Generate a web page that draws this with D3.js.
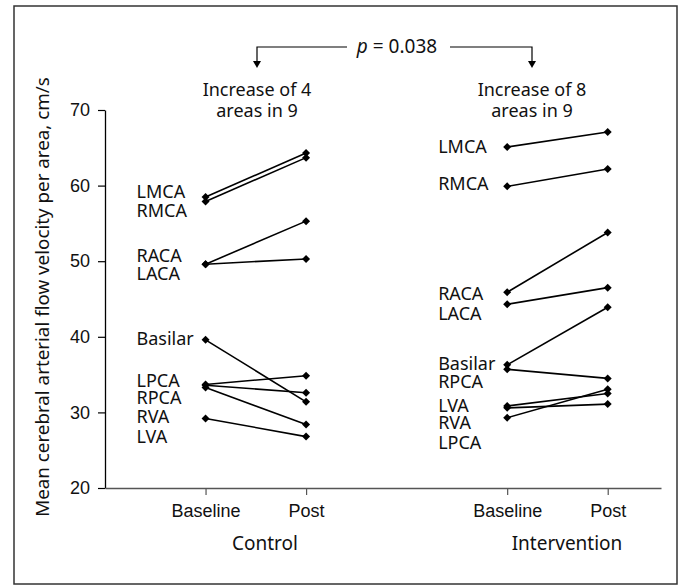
<!DOCTYPE html>
<html>
<head>
<meta charset="utf-8">
<script src="https://cdn.jsdelivr.net/npm/d3@7"></script>
<style>
  body { margin: 0; background: #fff; }
  svg { display: block; font-family: "Noto Sans", "Open Sans", sans-serif; }
</style>
</head>
<body>
<svg id="chart"></svg>
<script>
// areas, in the order they are drawn
const areas = ["LMCA", "RMCA", "RACA", "LACA", "Basilar", "LPCA", "RPCA", "RVA", "LVA"];

// control group: baseline -> post (cm/s)
const controlBaseline = [58.5, 57.9, 49.6, 49.6, 39.6, 33.7, 33.6, 33.3, 29.2];
const controlPost     = [64.3, 63.7, 55.3, 50.3, 31.4, 34.85, 32.6, 28.4, 26.8];
// where each area name sits on the y scale
const controlLabelAt  = [59.2, 56.7, 50.7, 48.4, 39.8, 34.2, 31.9, 29.4, 26.8];

// intervention group: baseline -> post (cm/s)
const interBaseline = [65.1, 59.9, 45.9, 44.3, 36.3, 35.7, 30.85, 29.3, 30.6];
const interPost     = [67.1, 62.2, 53.8, 46.5, 43.9, 34.5, 32.5, 33.05, 31.1];
// label order in this panel differs
const interLabels   = ["LMCA", "RMCA", "RACA", "LACA", "Basilar", "RPCA", "LVA", "RVA", "LPCA"];
const interLabelAt  = [65.1, 60.2, 45.7, 43.1, 36.5, 34.1, 30.9, 28.6, 26.0];

const timeLabels = ["Baseline", "Post", "Baseline", "Post"];
const timePos = [1, 2, 4, 5];
const groupNames = ["Control", "Intervention"];
const yTicks = [20, 30, 40, 50, 60, 70];

const width = 680, height = 586;

const svg = d3.select("#chart")
  .attr("width", width)
  .attr("height", height);

// frame round the figure
svg.append("rect")
  .attr("x", 14).attr("y", 6)
  .attr("width", 663).attr("height", 578)
  .attr("fill", "none")
  .attr("stroke", "#333")
  .attr("stroke-width", 1.5);

const x = d3.scaleLinear().domain([0, 5.53]).range([105, 661]);
const y = d3.scaleLinear().domain([20, 70]).range([488, 110]);

// y axis
svg.append("g")
  .attr("transform", "translate(105,0)")
  .call(d3.axisLeft(y).tickValues(yTicks).tickSize(7).tickPadding(8).tickSizeOuter(0))
  .call(g => g.select(".domain").attr("stroke", "#000").attr("stroke-width", 1.3))
  .call(g => g.selectAll(".tick line").attr("stroke-width", 1.2))
  .call(g => g.selectAll(".tick text").attr("font-size", 18).attr("fill", "#111").attr("font-family", null));

// x axis (runs through y = 20)
svg.append("g")
  .attr("transform", `translate(0,${y(20)})`)
  .call(d3.axisBottom(x).tickValues(timePos).tickSize(7).tickPadding(9).tickSizeOuter(0)
    .tickFormat((d, i) => timeLabels[i]))
  .call(g => g.select(".domain").attr("stroke", "#555").attr("stroke-width", 1.5))
  .call(g => g.selectAll(".tick line").attr("stroke", "#555").attr("stroke-width", 1.2))
  .call(g => g.selectAll(".tick text").attr("font-size", 18).attr("fill", "#111").attr("font-family", null));

// group names under the axis
svg.append("g").selectAll("text")
  .data(groupNames)
  .join("text")
  .attr("x", (d, i) => i === 0 ? 265 : 567)
  .attr("y", 550)
  .attr("text-anchor", "middle")
  .attr("font-size", 19)
  .attr("fill", "#111")
  .text(d => d);

// y axis title
svg.append("text")
  .attr("transform", "translate(49,297) rotate(-90)")
  .attr("text-anchor", "middle")
  .attr("font-size", 18.8)
  .attr("fill", "#111")
  .text("Mean cerebral arterial flow velocity per area, cm/s");

const diamond = d3.symbol(d3.symbolSquare, 32);

function drawGroup(base, post, names, labelAt, x0, x1) {
  const g = svg.append("g");
  const rows = base.map((b, i) => ({ b: b, p: post[i] }));

  g.selectAll("line")
    .data(rows)
    .join("line")
    .attr("x1", x(x0)).attr("y1", d => y(d.b))
    .attr("x2", x(x1)).attr("y2", d => y(d.p))
    .attr("stroke", "#000")
    .attr("stroke-width", 1.6);

  const pts = rows.flatMap(d => [[x0, d.b], [x1, d.p]]);
  g.selectAll("path")
    .data(pts)
    .join("path")
    .attr("d", diamond)
    .attr("transform", d => `translate(${x(d[0])},${y(d[1])}) rotate(45)`)
    .attr("fill", "#000");

  // stacked names that sit close together go into one text block
  const stacks = [];
  names.forEach((n, i) => {
    const last = stacks[stacks.length - 1];
    if (last && y(labelAt[i]) - y(labelAt[i - 1]) < 24) last.push(i);
    else stacks.push([i]);
  });

  g.selectAll("text")
    .data(stacks)
    .join("text")
    .attr("font-size", 18)
    .attr("fill", "#111")
    .each(function(s) {
      d3.select(this).selectAll("tspan")
        .data(s)
        .join("tspan")
        .attr("x", x(x0) - 69)
        .attr("y", i => y(labelAt[i]))
        .attr("dy", "0.35em")
        .text(i => names[i]);
    });
}

drawGroup(controlBaseline, controlPost, areas, controlLabelAt, timePos[0], timePos[1]);
drawGroup(interBaseline, interPost, interLabels, interLabelAt, timePos[2], timePos[3]);

// p value bracket at the top
const leftX = 257, rightX = 532, barY = 47, tipY = 68;
svg.append("path")
  .attr("d", `M${leftX},${tipY - 6}V${barY}H347 M450,${barY}H${rightX}V${tipY - 6}`)
  .attr("fill", "none")
  .attr("stroke", "#000")
  .attr("stroke-width", 1.2);

svg.append("g").selectAll("path")
  .data([leftX, rightX])
  .join("path")
  .attr("d", d => `M${d - 4},${tipY - 7}L${d + 4},${tipY - 7}L${d},${tipY}Z`)
  .attr("fill", "#000");

const pText = svg.append("text")
  .attr("x", 397)
  .attr("y", 53)
  .attr("text-anchor", "middle")
  .attr("font-size", 19)
  .attr("fill", "#111");
pText.append("tspan").attr("font-style", "italic").text("p");
pText.append("tspan").text(" = 0.038");

// increase notes under the arrows
const notes = [["Increase of 4", "areas in 9"], ["Increase of 8", "areas in 9"]];
svg.append("g").selectAll("text")
  .data(notes)
  .join("text")
  .attr("x", (d, i) => i === 0 ? leftX : rightX)
  .attr("y", 96)
  .attr("text-anchor", "middle")
  .attr("font-size", 18)
  .attr("fill", "#111")
  .each(function(d) {
    d3.select(this).selectAll("tspan")
      .data(d)
      .join("tspan")
      .attr("x", d3.select(this).attr("x"))
      .attr("dy", (t, j) => j === 0 ? 0 : 21)
      .text(t => t);
  });
</script>
</body>
</html>
